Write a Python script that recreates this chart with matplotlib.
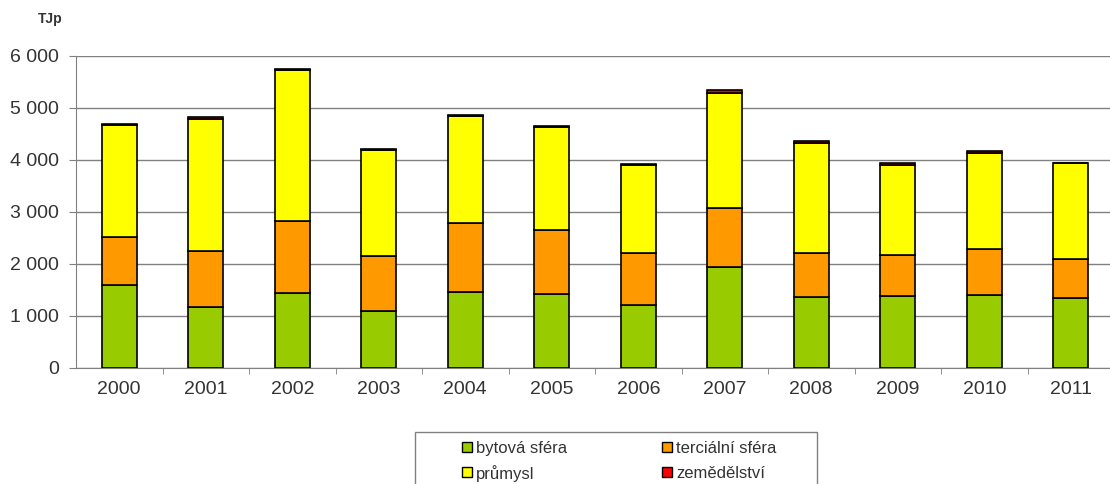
import numpy as np
from matplotlib import pyplot as plt
from matplotlib.patches import Rectangle
from matplotlib.ticker import FuncFormatter

plt.rcParams['font.family'] = ['Liberation Sans', 'DejaVu Sans']

# Data (TJp)
years = ['2000', '2001', '2002', '2003', '2004', '2005',
         '2006', '2007', '2008', '2009', '2010', '2011']
bytova = [1590, 1180, 1450, 1100, 1470, 1430, 1210, 1950, 1370, 1380, 1400, 1340]
tercialni = [935, 1075, 1380, 1055, 1325, 1225, 1005, 1120, 845, 795, 880, 750]
prumysl = [2140, 2535, 2905, 2030, 2045, 1975, 1685, 2215, 2110, 1730, 1850, 1855]
zemedelstvi = [35, 40, 20, 25, 20, 20, 25, 65, 35, 45, 40, 5]

series = [
    ('bytová sféra', bytova, '#99CC00'),
    ('terciální sféra', tercialni, '#FF9900'),
    ('průmysl', prumysl, '#FFFF00'),
    ('zemědělství', zemedelstvi, '#FF0000'),
]

W, H = 1110, 484
fig = plt.figure(figsize=(W / 100, H / 100), dpi=100)
ax = fig.add_axes([76 / W, 1 - 368 / H, 1038 / W, 312 / H])

x = np.arange(len(years))
bottom = np.zeros(len(years))
for name, vals, col in series:
    ax.bar(x, vals, width=0.4, bottom=bottom, color=col,
           edgecolor='black', linewidth=1.2, label=name, zorder=3)
    bottom += np.array(vals)

ax.set_xlim(-0.5, len(years) - 0.5)
ax.set_ylim(0, 6000)
ax.set_yticks(np.arange(0, 6001, 1000))
ax.yaxis.set_major_formatter(FuncFormatter(lambda v, p: f'{int(v):,}'.replace(',', ' ')))
ax.grid(axis='y', color='#808080', linewidth=1.0, zorder=0)

ax.set_xticks(x)
ax.set_xticklabels(years)
ax.set_xticks(np.arange(0.5, len(years) - 0.5, 1), minor=True)
ax.tick_params(axis='x', which='major', length=0, pad=9, labelsize=14, labelcolor='#333333')
ax.tick_params(axis='x', which='minor', length=4, color='#808080', direction='out')
ax.tick_params(axis='y', length=5, color='#808080', labelsize=14, pad=7, labelcolor='#333333')

for s in ['top', 'right']:
    ax.spines[s].set_visible(False)
for s in ['left', 'bottom']:
    ax.spines[s].set_color('#808080')

fig.text(38 / W, 1 - 19 / H, 'TJp', fontsize=10, fontweight='bold', va='center',
         color='#333333')

# legend drawn by hand: frame runs off the bottom edge, entries filled row by row
fig.patches.append(Rectangle((415 / W, -0.1), 402 / W, (H - 432) / H + 0.1,
                             transform=fig.transFigure, fill=False,
                             edgecolor='#808080', linewidth=1.0))
col_x = [462, 662]
row_y = [447, 472]
for i, (name, vals, col) in enumerate(series):
    px = col_x[i % 2]
    py = row_y[i // 2]
    fig.patches.append(Rectangle((px / W, 1 - (py + 5) / H), 10 / W, 10 / H,
                                 transform=fig.transFigure, facecolor=col,
                                 edgecolor='black', linewidth=1.0))
    fig.text((px + 14) / W, 1 - py / H, name, fontsize=12, va='center_baseline',
             ha='left', color='#333333')

fig.savefig('out.png', dpi=100)
